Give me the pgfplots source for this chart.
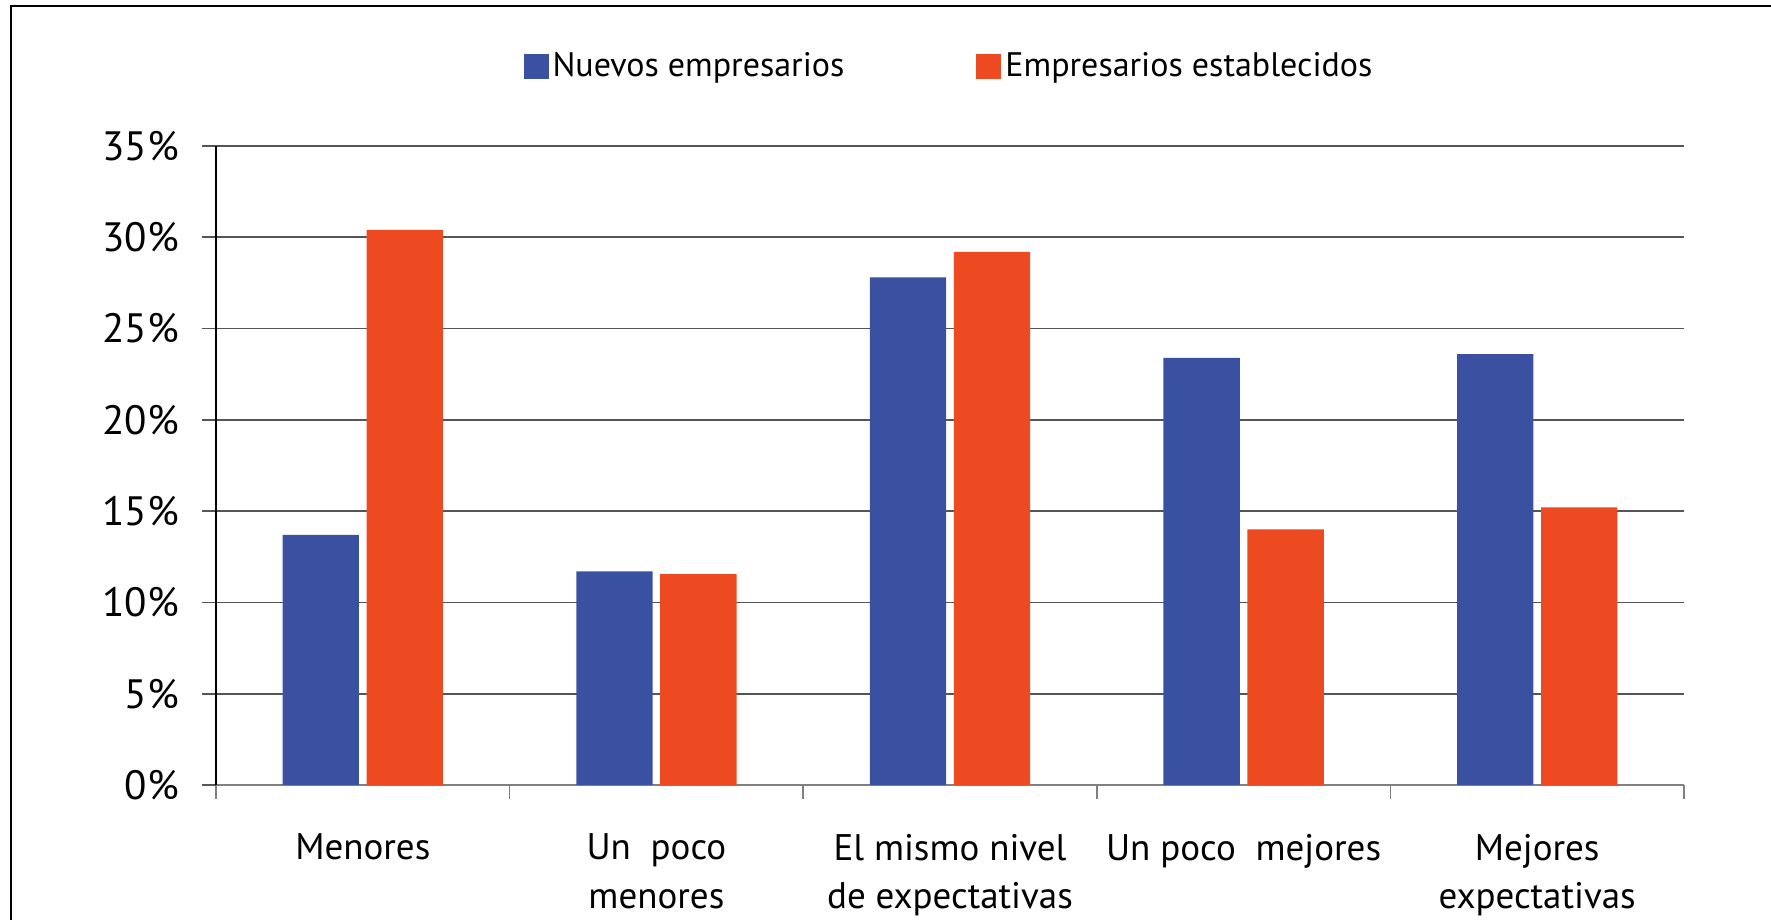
\documentclass[border=0pt]{standalone}
\usepackage{fontspec}
\setmainfont{PT Sans}
\usepackage{pgfplots}
\pgfplotsset{compat=1.18}
\definecolor{cblue}{RGB}{58,81,162}
\definecolor{corange}{RGB}{238,74,34}
\definecolor{gridc}{RGB}{85,85,85}
\begin{document}
\begin{tikzpicture}
\useasboundingbox (0,0) rectangle (885.5pt,460pt);
\draw[line width=1.2pt, black] (5.5pt,-20pt) -- (5.5pt,457pt) -- (900pt,457pt);
\begin{axis}[
  at={(108pt,67.5pt)}, anchor=south west,
  scale only axis, width=734pt, height=319.5pt,
  ymin=0, ymax=35, xmin=-0.5, xmax=4.5,
  ybar, bar width=0.26,
  axis x line=bottom, axis y line=left,
  axis line style={-},
  x axis line style={gray, line width=0.8pt},
  y axis line style={black, line width=0.8pt},
  ytick={0,5,...,35},
  yticklabel={\pgfmathprintnumber{\tick}\%},
  /pgf/number format/assume math mode=true,
  ymajorgrids, grid style={gridc, line width=0.8pt},
  tick align=outside, major tick length=7pt,
  y tick style={gridc, line width=0.8pt},
  x tick style={gray, line width=0.8pt},
  xtick={-0.5,0.5,...,4.5}, xticklabels={},
  extra x ticks={0,1,2,3,4},
  extra x tick labels={Menores,{Un\ \ poco\\menores},{El\ mismo nivel\\de\ expectativas},{Un poco\ \ mejores},{Mejores\\expectativas}},
  extra x tick style={major tick length=0pt, grid=none, tick style={draw=none}},
  xticklabel style={font=\fontsize{18.5}{24.3}\selectfont, align=center, anchor=north, yshift=-21pt},
  yticklabel style={font=\fontsize{20.5}{24}\selectfont, xshift=-8pt},
  legend style={draw=none, at={(0.5,1.125)}, anchor=center, legend columns=2,
    font=\fontsize{17}{20}\selectfont,
    /tikz/every even column/.append style={column sep=64pt}},
  legend image code/.code={\fill[#1] (0pt,-6.25pt) rectangle (12.5pt,6.25pt);},
]
\addplot[fill=cblue, draw=none, bar shift=-0.143] coordinates {(0,13.7) (1,11.7) (2,27.8) (3,23.4) (4,23.6)};
\addplot[fill=corange, draw=none, bar shift=0.143] coordinates {(0,30.4) (1,11.55) (2,29.2) (3,14.0) (4,15.2)};
\legend{Nuevos empresarios, Empresarios establecidos}
\end{axis}
\end{tikzpicture}
\end{document}
